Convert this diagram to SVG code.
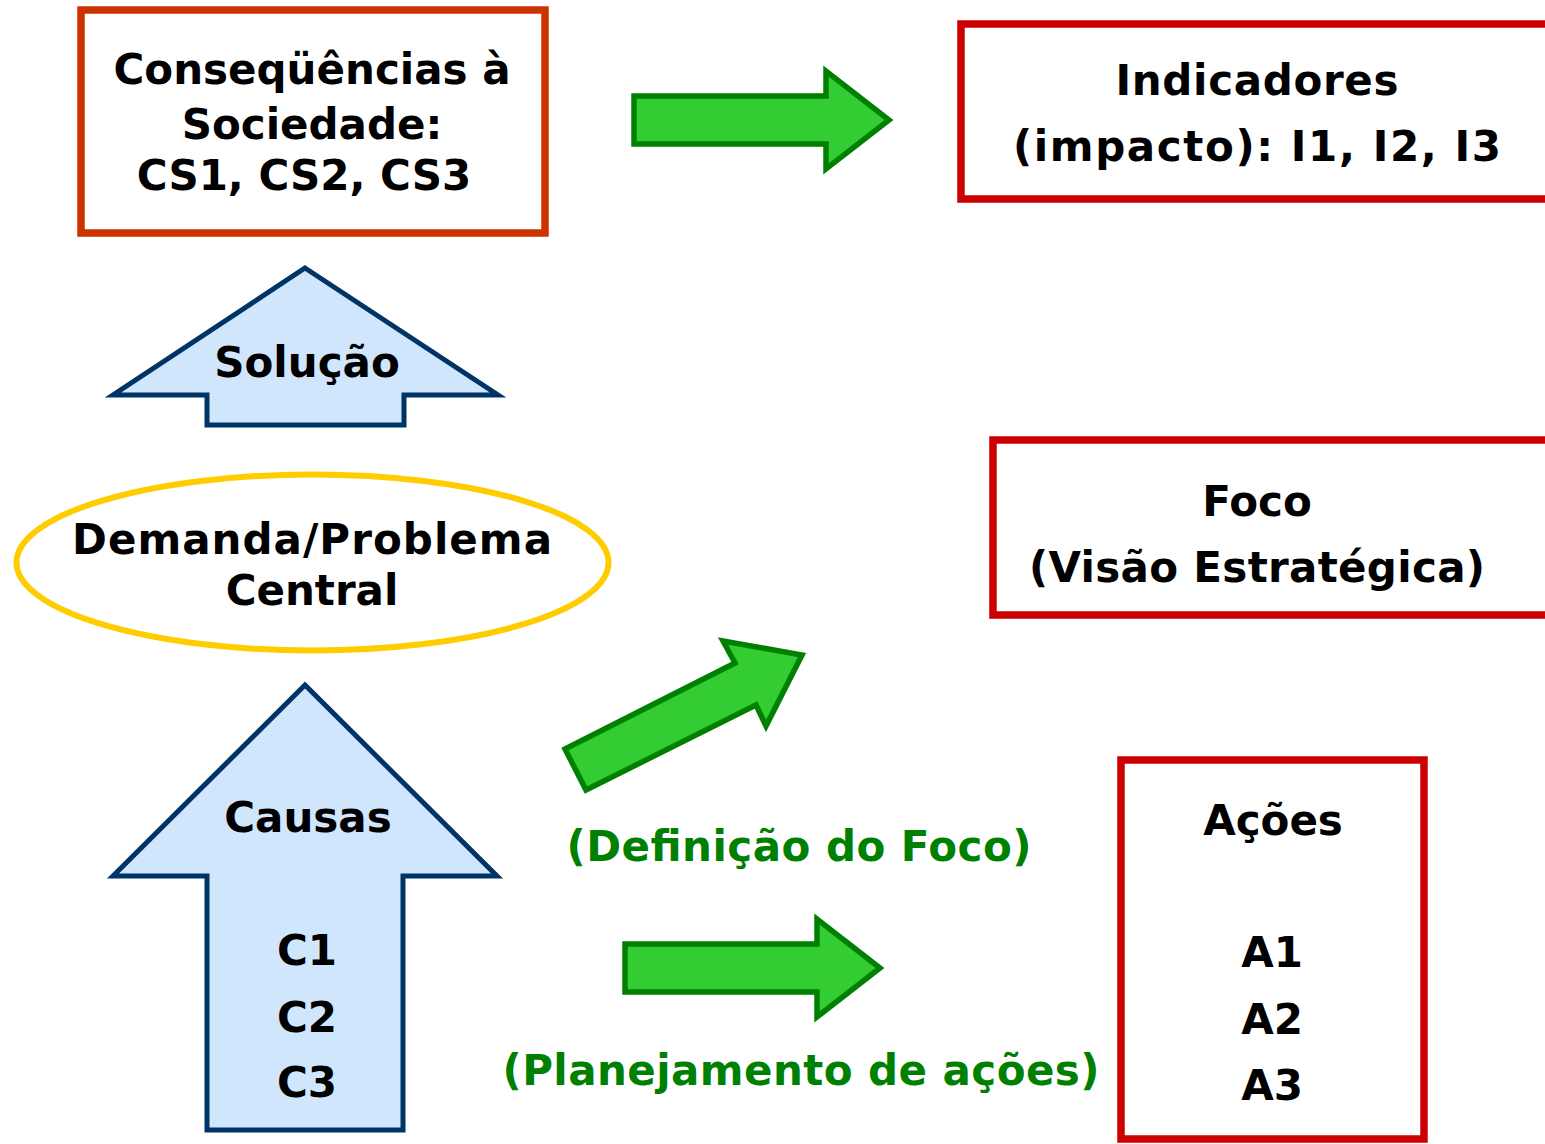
<svg xmlns="http://www.w3.org/2000/svg" width="1545" height="1144" viewBox="0 0 1545 1144">
<style>
.t{font-family:Verdana,"DejaVu Sans",sans-serif;font-weight:bold;font-size:42px;fill:#000;text-anchor:middle}
.g{fill:#008000}
.box{fill:#fff;stroke:#CC0000;stroke-width:7.5}
.blue{fill:#D0E6FC;stroke:#003366;stroke-width:5;stroke-linejoin:miter}
.grn{fill:#33CC33;stroke:#008000;stroke-width:5.5;stroke-linejoin:miter}
</style>
<rect width="1545" height="1144" fill="#fff"/>
<g id="consequencias">
<rect x="81" y="10" width="464" height="223" class="box" style="stroke:#CC3300"/>
<text class="t" x="312" y="84">Conseqüências à</text>
<text class="t" x="312" y="139">Sociedade:</text>
<text class="t" x="304" y="190">CS1, CS2, CS3</text>
</g>
<g id="indicadores">
<rect x="961" y="24" width="620" height="175" class="box"/>
<text class="t" x="1257" y="95" textLength="283" lengthAdjust="spacing">Indicadores</text>
<text class="t" x="1257" y="161" textLength="488" lengthAdjust="spacing">(impacto): I1, I2, I3</text>
</g>
<g id="solucao">
<polygon class="blue" points="305,268 498,395 404,395 404,425 207,425 207,395 113,395"/>
<text class="t" x="307" y="377">Solução</text>
</g>
<g id="demanda">
<ellipse cx="312.5" cy="562.5" rx="296" ry="88" fill="#fff" stroke="#FFCC00" stroke-width="6"/>
<text class="t" x="312" y="554" textLength="480" lengthAdjust="spacing">Demanda/Problema</text>
<text class="t" x="312" y="605">Central</text>
</g>
<g id="causas">
<polygon class="blue" points="305,685 497,876 403,876 403,1130 207,1130 207,876 113,876"/>
<text class="t" x="308" y="832">Causas</text>
<text class="t" x="307" y="965">C1</text>
<text class="t" x="307" y="1032">C2</text>
<text class="t" x="307" y="1097">C3</text>
</g>
<g id="foco">
<rect x="993" y="440" width="600" height="175" class="box"/>
<text class="t" x="1257" y="516">Foco</text>
<text class="t" x="1257" y="582" textLength="456" lengthAdjust="spacing">(Visão Estratégica)</text>
</g>
<g id="acoes">
<rect x="1121" y="760" width="303" height="379" class="box"/>
<text class="t" x="1273" y="835">Ações</text>
<text class="t" x="1272" y="967">A1</text>
<text class="t" x="1272" y="1034">A2</text>
<text class="t" x="1272" y="1100">A3</text>
</g>
<g id="connectors">
<polygon class="grn" points="634,96 826,96 826,71 889,120 826,169 826,144 634,144"/>
<polygon class="grn" points="565,749 735,663 723,641 802,655 766,726 756,705 586,790"/>
<polygon class="grn" points="625,944 817,944 817,919 880,968 817,1017 817,992 625,992"/>
<text class="t g" x="799" y="861" textLength="465" lengthAdjust="spacing">(Definição do Foco)</text>
<text class="t g" x="801" y="1085" textLength="597" lengthAdjust="spacing">(Planejamento de ações)</text>
</g>
</svg>
